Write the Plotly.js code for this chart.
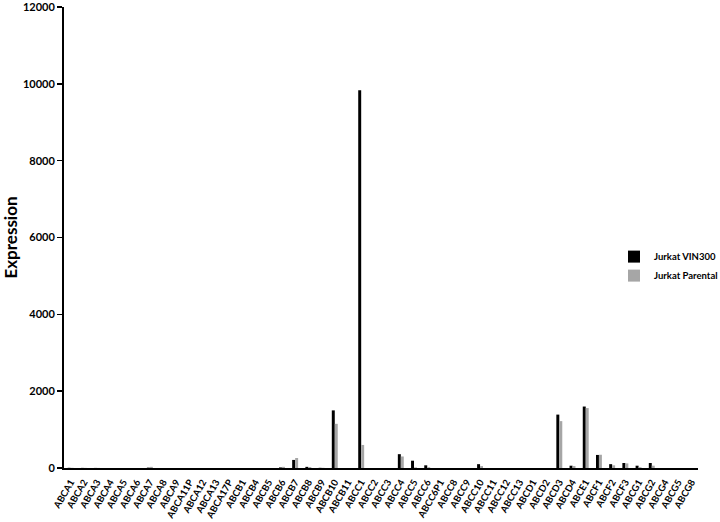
<!DOCTYPE html>
<html><head><meta charset="utf-8">
<script src="https://cdn.plot.ly/plotly-3.0.1.min.js"></script>
<style>body{margin:0;background:#fff}#c{width:720px;height:522px}</style>
</head><body><div id="c"></div>
<script>
const genes = ["ABCA1","ABCA2","ABCA3","ABCA4","ABCA5","ABCA6","ABCA7","ABCA8","ABCA9","ABCA11P","ABCA12","ABCA13","ABCA17P","ABCB1","ABCB4","ABCB5","ABCB6","ABCB7","ABCB8","ABCB9","ABCB10","ABCB11","ABCC1","ABCC2","ABCC3","ABCC4","ABCC5","ABCC6","ABCC6P1","ABCC8","ABCC9","ABCC10","ABCC11","ABCC12","ABCC13","ABCD1","ABCD2","ABCD3","ABCD4","ABCE1","ABCF1","ABCF2","ABCF3","ABCG1","ABCG2","ABCG4","ABCG5","ABCG8"];
const vin300 = [5,3,2,0,0,0,10,0,0,0,0,0,0,0,0,0,15,210,30,5,1500,0,9830,0,0,360,190,70,0,0,0,100,0,0,0,0,0,1390,60,1600,340,100,130,60,130,0,0,0];
const parental = [5,3,2,0,0,0,30,0,0,0,0,0,0,0,0,0,30,260,25,5,1150,0,600,0,0,300,15,20,0,0,0,50,0,0,0,0,0,1220,50,1560,345,70,120,20,60,0,0,0];
const seriesNames = ["Jurkat VIN300","Jurkat Parental"];
const yTicks = [0,2000,4000,6000,8000,10000,12000];
const font = "Lato, 'Open Sans', sans-serif";
const data = [
 {type:"bar", x:genes, y:vin300, name:seriesNames[0], marker:{color:"#000000"}},
 {type:"bar", x:genes, y:parental, name:seriesNames[1], marker:{color:"#a6a6a6"}}
];
const layout = {
 width:720, height:522,
 margin:{l:64, r:22, t:7, b:54, autoexpand:false},
 paper_bgcolor:"#fff", plot_bgcolor:"#fff",
 barmode:"group", bargap:0.55, bargroupgap:0,
 font:{family:font, color:"#000"},
 xaxis:{type:"category", showgrid:false, showline:true, linecolor:"#000", linewidth:2,
   ticks:"", tickangle:-60, ticklabelstandoff:3, tickfont:{size:9.5, family:font, weight:"bold"}, automargin:false},
 yaxis:{range:[0,12000], tickmode:"array", tickvals:yTicks, ticktext:yTicks.map(String),
   ticklabeloverflow:"allow",
   showgrid:false, showline:true, linecolor:"#000", linewidth:2,
   ticks:"outside", ticklen:5, tickwidth:1.5, tickcolor:"#000", zeroline:false,
   tickfont:{size:11, family:font, weight:"bold"},
   title:{text:"Expression", font:{size:17, family:font, weight:"bold"}, standoff:14}, automargin:false},
 legend:{x:0.8675, xanchor:"left", y:0.49, yanchor:"top", font:{size:9.5, family:font, weight:"bold"},
   bgcolor:"rgba(0,0,0,0)", itemwidth:30},
 showlegend:true
};
Plotly.newPlot("c", data, layout, {displayModeBar:false, staticPlot:true});
</script></body></html>
